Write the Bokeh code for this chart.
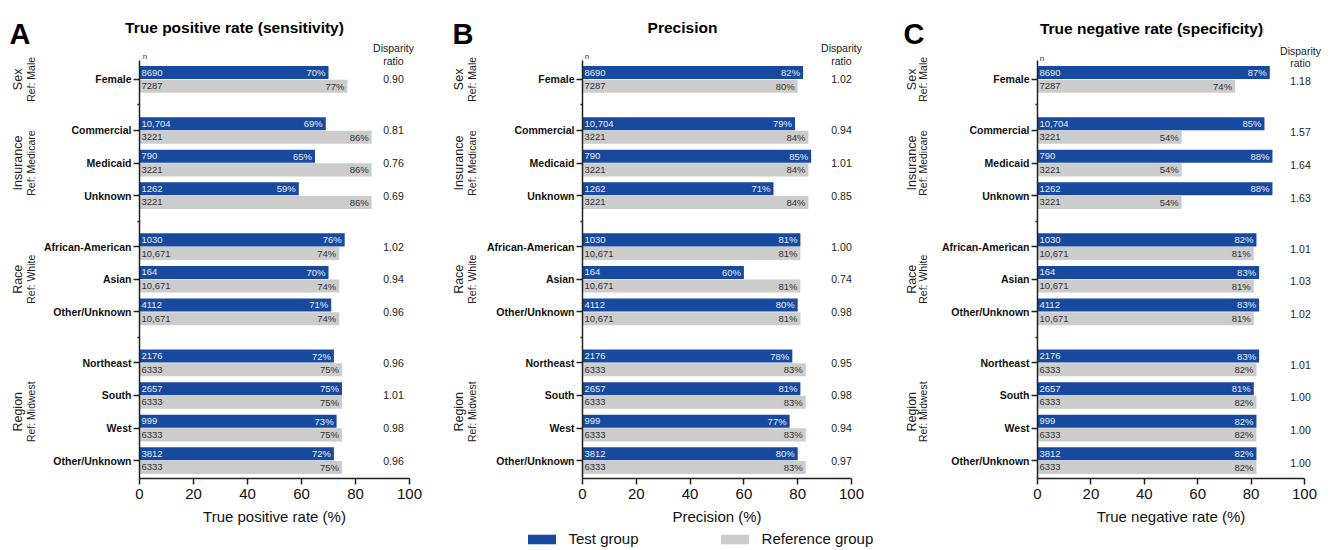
import math
from bokeh.plotting import figure
from bokeh.models import (ColumnDataSource, Range1d, FixedTicker, Label, LabelSet,
                          Legend, LegendItem)
from bokeh.layouts import row
from bokeh.core.properties import value
from bokeh.embed import file_html
from bokeh.resources import INLINE

FONT = "Liberation Sans"
BLUE = "#174A9E"
GRAY = "#CCCCCC"

# ---------------- data ----------------
categories = ["Female", "Commercial", "Medicaid", "Unknown", "African-American", "Asian",
              "Other/Unknown", "Northeast", "South", "West", "Other/Unknown"]
group_names = ["Sex", "Insurance", "Race", "Region"]
group_refs = ["Ref: Male", "Ref: Medicare", "Ref: White", "Ref: Midwest"]
group_sizes = [1, 3, 3, 4]

n_test = ["8690", "10,704", "790", "1262", "1030", "164", "4112", "2176", "2657", "999", "3812"]
n_ref = ["7287", "3221", "3221", "3221", "10,671", "10,671", "10,671", "6333", "6333", "6333", "6333"]

tpr_test = [70, 69, 65, 59, 76, 70, 71, 72, 75, 73, 72]
tpr_ref = [77, 86, 86, 86, 74, 74, 74, 75, 75, 75, 75]
tpr_ratio = ["0.90", "0.81", "0.76", "0.69", "1.02", "0.94", "0.96", "0.96", "1.01", "0.98", "0.96"]

prec_test = [82, 79, 85, 71, 81, 60, 80, 78, 81, 77, 80]
prec_ref = [80, 84, 84, 84, 81, 81, 81, 83, 83, 83, 83]
prec_ratio = ["1.02", "0.94", "1.01", "0.85", "1.00", "0.74", "0.98", "0.95", "0.98", "0.94", "0.97"]

tnr_test = [87, 85, 88, 88, 82, 83, 83, 83, 81, 82, 82]
tnr_ref = [74, 54, 54, 54, 81, 81, 81, 82, 82, 82, 82]
tnr_ratio = ["1.18", "1.57", "1.64", "1.63", "1.01", "1.03", "1.02", "1.01", "1.00", "1.00", "1.00"]

x_ticks = [0, 20, 40, 60, 80, 100]

# ---------------- layout of rows ----------------
STEP, GAP = 100, 57
ypos, bounds = [], []
yy = 0
for size in group_sizes:
    start = yy
    for _ in range(size):
        ypos.append(yy)
        yy += STEP
    bounds.append((start, yy - STEP))
    yy += GAP
separators = [(bounds[i][1] + bounds[i + 1][0]) / 2 for i in range(len(bounds) - 1)]
Y_TOP = -58
Y_BOT = ypos[-1] + 55
FRAME_TOP_IMG = 60
FRAME_H = 418
PY = FRAME_H / (Y_BOT - Y_TOP)

HEIGHT = 548


def make_panel(letter, title, xlabel, test, ref, ratio, g, legend=False):
    L, W = g["L"], g["W"]
    fl, fw = g["fig_left"], g["fig_w"]

    def dx(img_x):
        return (img_x - L) * 100.0 / W

    def dy(img_y):
        return Y_TOP + (img_y - FRAME_TOP_IMG) / PY

    p = figure(width=fw, height=HEIGHT,
               x_range=Range1d(dx(fl), dx(fl + fw)),
               y_range=Range1d(dy(HEIGHT), dy(0)),
               output_backend="svg", toolbar_location=None,
               min_border=0, min_border_left=0, min_border_right=0,
               min_border_top=0, min_border_bottom=0)
    p.outline_line_color = None
    p.grid.visible = False
    p.background_fill_color = "white"
    p.border_fill_color = "white"

    src = ColumnDataSource(dict(
        yt=[y - 21 for y in ypos], yr=[y + 21 for y in ypos],
        test=test, ref=ref,
        nt=n_test, nr=n_ref,
        pt=[f"{v}%" for v in test], pr=[f"{v}%" for v in ref],
        yc=[y + g["ratio_dy"] for y in ypos], ratio=ratio,
        rx=[dx(g["ratio_x"])] * len(ypos), zero=[0] * len(ypos),
    ))
    rb = p.hbar(y="yt", left=0, right="test", height=40, source=src,
                fill_color=BLUE, line_color=None)
    rg = p.hbar(y="yr", left=0, right="ref", height=40, source=src,
                fill_color=GRAY, line_color=None)

    common = dict(text_font=value(FONT), text_font_size="9.5px", text_baseline="middle")
    p.text(x="zero", y="yt", text="nt", source=src, x_offset=2, text_align="left",
           text_color="#E6ECF7", **common)
    p.text(x="test", y="yt", text="pt", source=src, x_offset=-3, text_align="right",
           text_color="#E6ECF7", **common)
    p.text(x="zero", y="yr", text="nr", source=src, x_offset=2, text_align="left",
           text_color="#333333", **common)
    p.text(x="ref", y="yr", text="pr", source=src, x_offset=-3, text_align="right",
           text_color="#333333", **common)

    p.add_layout(LabelSet(x="rx", y="yc", text="ratio", source=src, text_align="center",
                          text_baseline="middle", text_font=value(FONT),
                          text_font_size="10.5px", text_color="#222222"))

    # axes (drawn at fixed data locations)
    xa = p.xaxis[0]
    xa.fixed_location = Y_BOT
    xa.bounds = (0, 100)
    xa.ticker = FixedTicker(ticks=x_ticks)
    xa.axis_label = xlabel
    xa.axis_label_text_font = FONT
    xa.axis_label_text_font_size = "15px"
    xa.axis_label_text_font_style = "normal"
    xa.axis_label_text_color = "#111111"
    xa.axis_label_standoff = 6
    xa.major_label_text_font = FONT
    xa.major_label_text_font_size = "15px"
    xa.major_label_text_color = "#111111"
    xa.major_label_standoff = 4
    xa.major_tick_out = 6
    xa.major_tick_in = 0
    xa.minor_tick_line_color = None
    xa.axis_line_width = 1.5
    xa.major_tick_line_width = 1.5
    xa.axis_line_color = "#222222"
    xa.major_tick_line_color = "#222222"

    ya = p.yaxis[0]
    ya.fixed_location = 0
    ya.bounds = (Y_TOP, Y_BOT)
    ya.ticker = FixedTicker(ticks=ypos, minor_ticks=separators)
    ya.major_label_overrides = {int(y): c for y, c in zip(ypos, categories)}
    ya.major_label_text_font = FONT
    ya.major_label_text_font_size = "10.5px"
    ya.major_label_text_font_style = "bold"
    ya.major_label_text_color = "#111111"
    ya.major_label_standoff = 2
    ya.major_tick_out = 6
    ya.major_tick_in = 0
    ya.minor_tick_out = 2
    ya.minor_tick_in = 0
    ya.axis_line_width = 1.5
    ya.major_tick_line_width = 1.5
    ya.minor_tick_line_width = 1.5
    ya.axis_line_color = "#222222"
    ya.major_tick_line_color = "#222222"
    ya.minor_tick_line_color = "#222222"

    # annotations
    p.add_layout(Label(x=dx(g["letter"][0]), y=dy(g["letter"][1]), text=letter,
                       text_font=FONT, text_font_size="29px", text_font_style="bold",
                       text_align="left", text_baseline="alphabetic", text_color="black"))
    p.add_layout(Label(x=dx(g["title"][0]), y=dy(g["title"][1]), text=title,
                       text_font=FONT, text_font_size="15.5px", text_font_style="bold",
                       text_align="center", text_baseline="middle", text_color="black"))
    p.add_layout(Label(x=dx(g["n"][0]), y=dy(g["n"][1]), text="n",
                       text_font=FONT, text_font_size="8px", text_align="center",
                       text_baseline="middle", text_color="#333333"))
    p.add_layout(Label(x=dx(g["ratio_x"]), y=dy(g["hdr"][0]), text="Disparity",
                       text_font=FONT, text_font_size="10.5px", text_align="center",
                       text_baseline="middle", text_color="#222222"))
    p.add_layout(Label(x=dx(g["ratio_x"]), y=dy(g["hdr"][1]), text="ratio",
                       text_font=FONT, text_font_size="10.5px", text_align="center",
                       text_baseline="middle", text_color="#222222"))
    for (b0, b1), gname, gref in zip(bounds, group_names, group_refs):
        yc = (b0 + b1) / 2
        p.add_layout(Label(x=dx(g["grp"][0]), y=yc, text=gname, angle=math.pi / 2,
                           text_font=FONT, text_font_size="12.5px", text_align="center",
                           text_baseline="middle", text_color="#222222"))
        p.add_layout(Label(x=dx(g["grp"][1]), y=yc, text=gref, angle=math.pi / 2,
                           text_font=FONT, text_font_size="10.5px", text_align="center",
                           text_baseline="middle", text_color="#222222"))

    if legend:
        lg = Legend(items=[LegendItem(label="Test group", renderers=[rb]),
                           LegendItem(label="Reference group", renderers=[rg])],
                    orientation="horizontal", location=(523.5 - fl, HEIGHT - 547),
                    glyph_width=35, glyph_height=12, label_standoff=10, spacing=78,
                    padding=0, margin=0, border_line_alpha=0, background_fill_alpha=0,
                    label_text_font=FONT, label_text_font_size="15px",
                    label_text_color="#111111", label_height=14)
        p.add_layout(lg)
    return p


geoA = dict(fig_left=0, fig_w=445, L=139, W=270, ratio_x=393, ratio_dy=0, hdr=(47, 60),
            n=(144.5, 56), letter=(9, 33), title=(234, 27), grp=(17, 30))
geoB = dict(fig_left=445, fig_w=445, L=582, W=269, ratio_x=841, ratio_dy=0, hdr=(47, 60),
            n=(586.5, 56), letter=(452, 33), title=(682, 27), grp=(458, 471))
geoC = dict(fig_left=890, fig_w=444, L=1037, W=267, ratio_x=1300, ratio_dy=6, hdr=(50, 62),
            n=(1041.5, 58), letter=(903, 33), title=(1151, 28), grp=(911, 922))

pA = make_panel("A", "True positive rate (sensitivity)", "True positive rate (%)",
                tpr_test, tpr_ref, tpr_ratio, geoA)
pB = make_panel("B", "Precision", "Precision (%)", prec_test, prec_ref, prec_ratio, geoB,
                legend=True)
pC = make_panel("C", "True negative rate (specificity)", "True negative rate (%)",
                tnr_test, tnr_ref, tnr_ratio, geoC)

layout = row(pA, pB, pC)
open("out.html", "w").write(file_html(layout, INLINE))
